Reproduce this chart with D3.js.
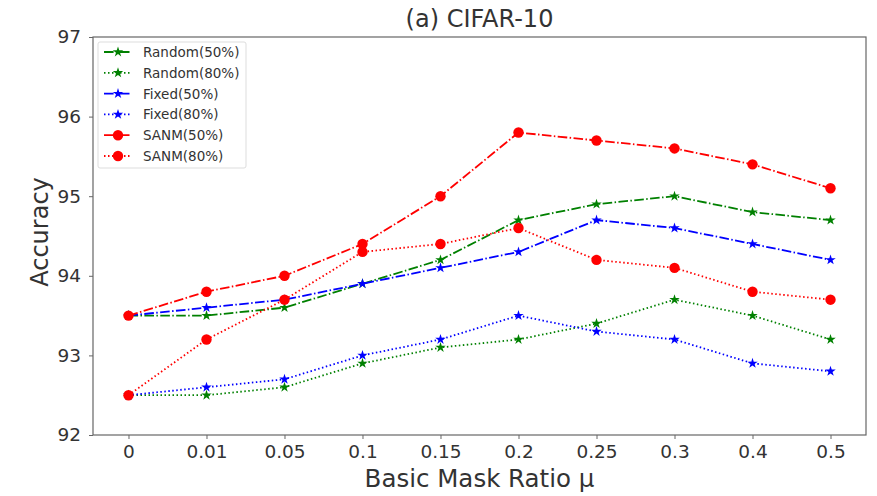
<!DOCTYPE html>
<html><head><meta charset="utf-8">
<script src="https://cdn.jsdelivr.net/npm/d3@7"></script>
<style>body{margin:0;background:#fff}svg{display:block}text{font-family:"DejaVu Sans",sans-serif}</style>
</head><body>
<svg id="c" width="877" height="496"></svg>
<script>
const categories = ["0","0.01","0.05","0.1","0.15","0.2","0.25","0.3","0.4","0.5"];
const yTicks = [92,93,94,95,96,97];
const random50 = [93.5,93.5,93.6,93.9,94.2,94.7,94.9,95.0,94.8,94.7];
const random80 = [92.5,92.5,92.6,92.9,93.1,93.2,93.4,93.7,93.5,93.2];
const fixed50  = [93.5,93.6,93.7,93.9,94.1,94.3,94.7,94.6,94.4,94.2];
const fixed80  = [92.5,92.6,92.7,93.0,93.2,93.5,93.3,93.2,92.9,92.8];
const sanm50   = [93.5,93.8,94.0,94.4,95.0,95.8,95.7,95.6,95.4,95.1];
const sanm80   = [92.5,93.2,93.7,94.3,94.4,94.6,94.2,94.1,93.8,93.7];
const seriesNames = ["Random(50%)","Random(80%)","Fixed(50%)","Fixed(80%)","SANM(50%)","SANM(80%)"];

const series = [
  {name:seriesNames[0], values:random50, color:"#008000", dash:"9.6,2.4,1.5,2.4", marker:"star"},
  {name:seriesNames[1], values:random80, color:"#008000", dash:"1.5,2.5", marker:"star"},
  {name:seriesNames[2], values:fixed50,  color:"#0000ff", dash:"9.6,2.4,1.5,2.4", marker:"star"},
  {name:seriesNames[3], values:fixed80,  color:"#0000ff", dash:"1.5,2.5", marker:"star"},
  {name:seriesNames[4], values:sanm50,   color:"#ff0000", dash:"9.6,2.4,1.5,2.4", marker:"circle"},
  {name:seriesNames[5], values:sanm80,   color:"#ff0000", dash:"1.5,2.5", marker:"circle"}
];

const svg = d3.select("#c");
const L=93, R=866, T=37, B=435;
const x = d3.scalePoint().domain(categories).range([L,R]).padding(0.455);
const y = d3.scaleLinear().domain([92,97]).range([B,T]);

svg.append("rect").attr("x",L).attr("y",T).attr("width",R-L).attr("height",B-T)
  .attr("fill","none").attr("stroke","#666").attr("stroke-width",1.2);

const xa = svg.append("g").attr("transform",`translate(0,${B})`)
  .call(d3.axisBottom(x).tickSize(4).tickPadding(6));
xa.select(".domain").remove();
xa.selectAll("line").attr("stroke","#666");
xa.selectAll("text").attr("font-size",18.5).attr("fill","#333");

const ya = svg.append("g").attr("transform",`translate(${L},0)`)
  .call(d3.axisLeft(y).tickValues(yTicks).tickFormat(d3.format("d")).tickSize(4).tickPadding(8));
ya.select(".domain").remove();
ya.selectAll("line").attr("stroke","#666");
ya.selectAll("text").attr("font-size",18.5).attr("fill","#333");

svg.append("text").attr("x",(L+R)/2).attr("y",27).attr("text-anchor","middle")
  .attr("font-size",24).attr("fill","#333").text("(a) CIFAR-10");
svg.append("text").attr("x",(L+R)/2).attr("y",487).attr("text-anchor","middle")
  .attr("font-size",24.5).attr("fill","#333").text("Basic Mask Ratio μ");
svg.append("text").attr("transform",`translate(48,${(T+B)/2 - 4}) rotate(-90)`).attr("text-anchor","middle")
  .attr("font-size",24).attr("fill","#333").text("Accuracy");

const line = d3.line().x((d,i)=>x(categories[i])).y(d=>y(d));

function drawMarker(g, s, cx, cy, scale){
  if(s.marker==="circle"){
    g.append("circle").attr("cx",cx).attr("cy",cy).attr("r",5.2*scale).attr("fill",s.color);
  } else {
    g.append("path").attr("d",d3.symbol().type(d3.symbolStar).size(34*scale*scale)())
      .attr("transform",`translate(${cx},${cy})`).attr("fill",s.color);
  }
}

series.forEach(s=>{
  const g = svg.append("g");
  g.append("path").datum(s.values).attr("d",line).attr("fill","none")
    .attr("stroke",s.color).attr("stroke-width",1.8).attr("stroke-dasharray",s.dash);
  s.values.forEach((v,i)=>drawMarker(g,s,x(categories[i]),y(v),1));
});

const lg = svg.append("g");
lg.append("rect").attr("x",98).attr("y",42).attr("width",148).attr("height",126)
  .attr("fill","#fff").attr("fill-opacity",0.85).attr("stroke","#ddd").attr("rx",2);
series.forEach((s,i)=>{
  const yy = 52 + i*20.8;
  lg.append("line").attr("x1",104).attr("x2",131).attr("y1",yy).attr("y2",yy)
    .attr("stroke",s.color).attr("stroke-width",1.8).attr("stroke-dasharray",s.dash);
  drawMarker(lg,s,118,yy,1);
  lg.append("text").attr("x",143).attr("y",yy+5).attr("font-size",13.5).attr("fill","#333").text(s.name);
});
</script>
</body></html>
